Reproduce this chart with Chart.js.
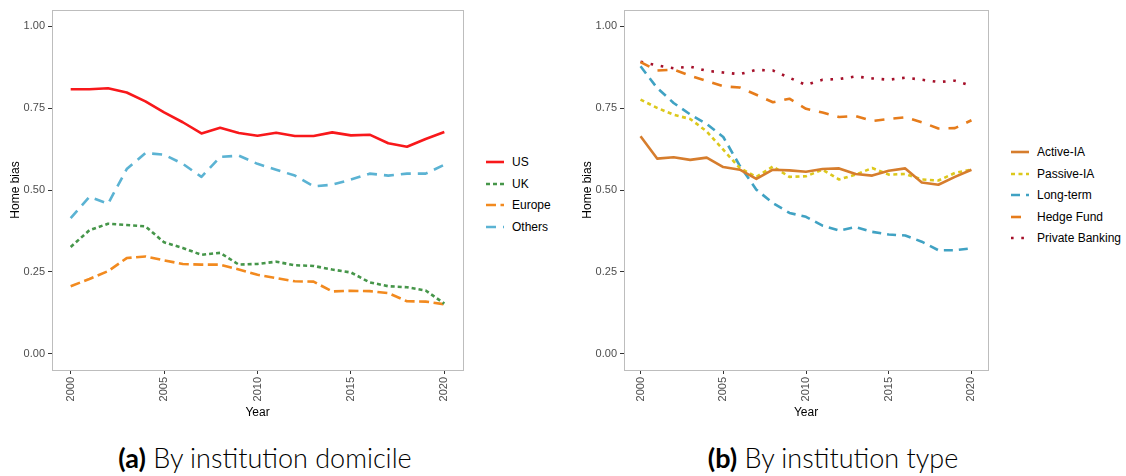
<!DOCTYPE html>
<html lang="en">
<head>
  <meta charset="UTF-8">
  <title>Home bias</title>
  <style>
    body {
      margin: 0;
      background: #fff;
      font-family: 'Liberation Sans', Arial, sans-serif;
    }
    #page {
      position: relative;
      width: 1126px;
      height: 476px;
      overflow: hidden;
    }
    canvas {
      position: absolute;
      top: 0;
    }
    .legend {
      position: absolute;
      font-size: 12px;
      color: #000;
    }
    .legend .item {
      position: absolute;
      left: 0;
      height: 16px;
      line-height: 16px;
      white-space: nowrap;
    }
    .legend svg {
      position: absolute;
      left: 0;
      top: 6px;
    }
    .legend span {
      position: absolute;
      left: 26px;
      top: 0;
    }
    .caption {
      position: absolute;
      top: 441px;
      font-family: Lato, 'Open Sans', sans-serif;
      font-size: 27px;
      font-weight: 300;
      line-height: 34px;
      color: #000;
      white-space: nowrap;
      transform: translateX(-50%);
    }
    .caption b { font-weight: 700; }
  </style>
</head>
<body>
<div id="page">
  <canvas id="chartA" width="470" height="430" style="left:0px"></canvas>
  <canvas id="chartB" width="420" height="430" style="left:572px"></canvas>
  <div class="legend" id="legendA" style="left:486px; top:154px"></div>
  <div class="legend" id="legendB" style="left:1011px; top:144px"></div>
  <div class="caption" style="left:265px"><b>(a)</b> By institution domicile</div>
  <div class="caption" style="left:833px"><b>(b)</b> By institution type</div>
</div>

<script src="https://cdn.jsdelivr.net/npm/chart.js"></script>
<script>
  // values
  const years = [2000, 2001, 2002, 2003, 2004, 2005, 2006, 2007, 2008, 2009, 2010,
                 2011, 2012, 2013, 2014, 2015, 2016, 2017, 2018, 2019, 2020];
  const yearTicks = [2000, 2005, 2010, 2015, 2020];
  const biasTicks = [0, 0.25, 0.5, 0.75, 1];

  // (a) by institution domicile
  const usVals = [0.808, 0.808, 0.811, 0.798, 0.771, 0.737, 0.707, 0.673, 0.690, 0.674, 0.666,
                  0.675, 0.665, 0.665, 0.676, 0.667, 0.669, 0.643, 0.632, 0.656, 0.677];
  const ukVals = [0.326, 0.377, 0.397, 0.393, 0.389, 0.340, 0.323, 0.302, 0.308, 0.272, 0.274,
                  0.281, 0.270, 0.268, 0.257, 0.248, 0.218, 0.206, 0.203, 0.193, 0.153];
  const europeVals = [0.206, 0.228, 0.252, 0.292, 0.297, 0.285, 0.274, 0.272, 0.272, 0.257, 0.241,
                      0.231, 0.221, 0.220, 0.190, 0.192, 0.191, 0.185, 0.160, 0.159, 0.151];
  const othersVals = [0.414, 0.479, 0.458, 0.564, 0.613, 0.608, 0.580, 0.540, 0.601, 0.605, 0.580,
                      0.562, 0.544, 0.511, 0.516, 0.532, 0.550, 0.544, 0.550, 0.550, 0.577];

  // (b) by institution type
  const activeVals = [0.664, 0.596, 0.600, 0.592, 0.599, 0.570, 0.562, 0.534, 0.562, 0.560, 0.556,
                      0.564, 0.566, 0.549, 0.544, 0.559, 0.566, 0.523, 0.516, 0.540, 0.562];
  const passiveVals = [0.776, 0.751, 0.730, 0.717, 0.679, 0.623, 0.567, 0.540, 0.572, 0.540, 0.542,
                       0.562, 0.532, 0.547, 0.567, 0.547, 0.549, 0.532, 0.529, 0.552, 0.562];
  const longTermVals = [0.878, 0.812, 0.766, 0.731, 0.702, 0.662, 0.574, 0.501, 0.460, 0.430, 0.418,
                        0.391, 0.376, 0.387, 0.372, 0.364, 0.361, 0.342, 0.316, 0.316, 0.322];
  const hedgeVals = [0.891, 0.865, 0.868, 0.849, 0.833, 0.817, 0.813, 0.791, 0.768, 0.779, 0.748,
                     0.737, 0.723, 0.726, 0.711, 0.717, 0.722, 0.707, 0.688, 0.689, 0.713];
  const privateVals = [0.892, 0.881, 0.872, 0.877, 0.864, 0.859, 0.854, 0.867, 0.865, 0.843, 0.821,
                       0.837, 0.839, 0.847, 0.841, 0.837, 0.843, 0.837, 0.830, 0.834, 0.819];

  const seriesA = [
    { label: 'US', data: usVals, color: '#f8181b', dash: [] },
    { label: 'UK', data: ukVals, color: '#46964a', dash: [4, 3] },
    { label: 'Europe', data: europeVals, color: '#f28a1f', dash: [10, 4.5] },
    { label: 'Others', data: othersVals, color: '#5bb3d3', dash: [10, 7] }
  ];
  const seriesB = [
    { label: 'Active-IA', data: activeVals, color: '#d67d2d', dash: [] },
    { label: 'Passive-IA', data: passiveVals, color: '#dcc81c', dash: [4, 3.5] },
    { label: 'Long-term', data: longTermVals, color: '#40a2c3', dash: [9, 6] },
    { label: 'Hedge Fund', data: hedgeVals, color: '#e67c1b', dash: [10, 9] },
    { label: 'Private Banking', data: privateVals, color: '#a50f29', dash: [2.6, 7.7] }
  ];

  // grey panel border like ggplot's theme_bw
  const frame = {
    id: 'frame',
    afterDatasetsDraw(chart) {
      const { ctx, chartArea: a } = chart;
      ctx.save();
      ctx.strokeStyle = '#bdbdbd';
      ctx.lineWidth = 1;
      ctx.strokeRect(Math.round(a.left) + 0.5, Math.round(a.top) + 0.5,
                     Math.round(a.right - a.left), Math.round(a.bottom - a.top));
      ctx.restore();
    }
  };

  function makeChart(id, series, padRight) {
    const ctx = document.getElementById(id).getContext('2d');
    return new Chart(ctx, {
      type: 'line',
      data: {
        datasets: series.map(s => ({
          label: s.label,
          data: years.map((yr, i) => ({ x: yr, y: s.data[i] })),
          borderColor: s.color,
          borderWidth: 2.6,
          borderDash: s.dash,
          borderCapStyle: 'butt',
          borderJoinStyle: 'round',
          pointRadius: 0,
          tension: 0,
          fill: false
        }))
      },
      options: {
        responsive: false,
        animation: false,
        layout: { padding: { left: 0, top: 10, right: padRight, bottom: 0 } },
        plugins: {
          legend: { display: false },
          tooltip: { enabled: false }
        },
        scales: {
          x: {
            type: 'linear',
            min: 1999,
            max: 2021,
            afterBuildTicks: scale => { scale.ticks = yearTicks.map(v => ({ value: v })); },
            afterFit: scale => { scale.height = 60; },
            grid: { drawOnChartArea: false, tickLength: 4, tickColor: '#333' },
            border: { display: false },
            ticks: {
              autoSkip: false,
              maxRotation: 90,
              minRotation: 90,
              padding: 3,
              color: '#4d4d4d',
              font: { family: 'Liberation Sans', size: 11 },
              callback: v => String(v)
            },
            title: {
              display: true,
              text: 'Year',
              color: '#000',
              font: { family: 'Liberation Sans', size: 12 },
              padding: { top: 0, bottom: 10 }
            }
          },
          y: {
            min: -0.05,
            max: 1.05,
            afterBuildTicks: scale => { scale.ticks = biasTicks.map(v => ({ value: v })); },
            afterFit: scale => { scale.width = 52; },
            grid: { drawOnChartArea: false, tickLength: 4, tickColor: '#333' },
            border: { display: false },
            ticks: {
              padding: 3,
              color: '#4d4d4d',
              font: { family: 'Liberation Sans', size: 11 },
              callback: v => v.toFixed(2)
            },
            title: {
              display: true,
              text: 'Home bias',
              color: '#000',
              font: { family: 'Liberation Sans', size: 12 },
              padding: { top: 8, bottom: 0 }
            }
          }
        }
      },
      plugins: [frame]
    });
  }

  function makeLegend(id, series) {
    const box = document.getElementById(id);
    series.forEach((s, i) => {
      const item = document.createElement('div');
      item.className = 'item';
      item.style.top = (i * 21.5) + 'px';
      const dash = s.dash.length ? s.dash.join(' ') : 'none';
      item.innerHTML =
        '<svg width="18" height="4"><line x1="0" y1="2" x2="18" y2="2" stroke="' + s.color +
        '" stroke-width="2.6" stroke-dasharray="' + dash + '"/></svg><span>' + s.label + '</span>';
      box.appendChild(item);
    });
  }

  makeChart('chartA', seriesA, 7);
  makeChart('chartB', seriesB, 4);
  makeLegend('legendA', seriesA);
  makeLegend('legendB', seriesB);
</script>
</body>
</html>
